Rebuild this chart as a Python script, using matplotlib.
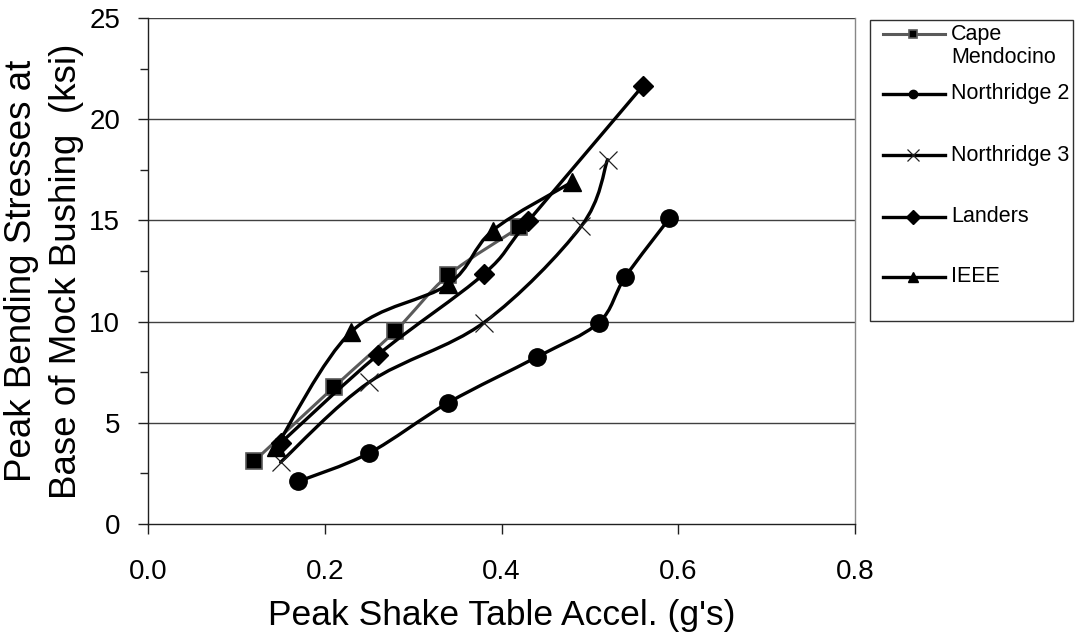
import numpy as np
import matplotlib
matplotlib.use("Agg")
import matplotlib.pyplot as plt
from matplotlib.path import Path
from matplotlib.patches import PathPatch, Rectangle
from matplotlib.lines import Line2D
from matplotlib.ticker import MultipleLocator

plt.rcParams['font.family'] = ['Liberation Sans', 'DejaVu Sans']

# Peak shake table acceleration (g) and peak bending stress (ksi) per record
series_names = ["Cape\nMendocino", "Northridge 2", "Northridge 3", "Landers", "IEEE"]

cape_x = [0.12, 0.21, 0.28, 0.34, 0.42]
cape_y = [3.1, 6.75, 9.55, 12.3, 14.65]

north2_x = [0.17, 0.25, 0.34, 0.44, 0.51, 0.54, 0.59]
north2_y = [2.1, 3.5, 6.0, 8.25, 9.95, 12.2, 15.1]

north3_x = [0.15, 0.25, 0.38, 0.49, 0.52]
north3_y = [3.05, 7.0, 9.95, 14.7, 18.0]

landers_x = [0.15, 0.26, 0.38, 0.43, 0.56]
landers_y = [4.0, 8.35, 12.35, 14.95, 21.65]

ieee_x = [0.145, 0.23, 0.34, 0.39, 0.48]
ieee_y = [3.8, 9.5, 11.85, 14.5, 16.9]

x_ticks = [0.0, 0.2, 0.4, 0.6, 0.8]
y_ticks = [0, 5, 10, 15, 20, 25]


def smooth_path(xs, ys):
    """Cubic Bezier through the points (Catmull-Rom style control points)."""
    p = np.column_stack([xs, ys]).astype(float)
    n = len(p)
    verts = [p[0]]
    codes = [Path.MOVETO]
    for i in range(n - 1):
        p0 = p[i - 1] if i > 0 else p[i]
        p1 = p[i]
        p2 = p[i + 1]
        p3 = p[i + 2] if i + 2 < n else p[i + 1]
        c1 = p1 + (p2 - p0) / 6.0
        c2 = p2 - (p3 - p1) / 6.0
        verts += [c1, c2, p2]
        codes += [Path.CURVE4] * 3
    return Path(verts, codes)


W, H = 1075, 634
fig = plt.figure(figsize=(W / 100, H / 100), dpi=100)
ax = fig.add_axes([148 / W, 1 - 524 / H, (855 - 148) / W, (524 - 18) / H])
ax.set_xlim(0, 0.8)
ax.set_ylim(0, 25)

grid_col = "#404040"
for v in y_ticks[1:]:
    ax.axhline(v, color=grid_col, lw=1.0, zorder=1)

ax.spines["top"].set_visible(False)
ax.spines["right"].set_color("#888888")
ax.spines["right"].set_linewidth(1.0)
ax.spines["left"].set_linewidth(1.0)
ax.spines["bottom"].set_linewidth(1.0)
ax.spines["left"].set_color("#202020")
ax.spines["bottom"].set_color("#202020")

ax.set_xticks(x_ticks)
ax.set_xticklabels([f"{v:.1f}" for v in x_ticks])
ax.set_yticks(y_ticks)
ax.set_yticklabels([str(v) for v in y_ticks])
ax.yaxis.set_minor_locator(MultipleLocator(2.5))
ax.tick_params(axis="both", which="major", direction="out", length=7, width=1,
               color="#202020", labelsize=20)
ax.tick_params(axis="x", pad=18)
ax.tick_params(axis="y", pad=13)
ax.tick_params(axis="y", which="minor", direction="out", length=6, width=1,
               color="#202020")

ax.set_xlabel("Peak Shake Table Accel. (g's)", fontsize=25.5, labelpad=10)
fig.text(44 / W, 1 - 271 / H, "Peak Bending Stresses at\nBase of Mock Bushing  (ksi)",
         rotation=90, ha="center", va="center", fontsize=26.5, linespacing=1.35,
         multialignment="center")

styles = [
    dict(color="#5a5a5a", lw=2.2, marker="s", ms=11, mfc="black", mec="#5a5a5a", mew=1.2),
    dict(color="black", lw=2.4, marker="o", ms=12.5, mfc="black", mec="black", mew=1),
    dict(color="black", lw=2.4, marker="x", ms=13, mfc="black", mec="#202020", mew=0.9),
    dict(color="black", lw=2.4, marker="D", ms=10, mfc="black", mec="black", mew=1),
    dict(color="black", lw=2.4, marker="^", ms=12.5, mfc="black", mec="black", mew=1),
]
data = [(cape_x, cape_y), (north2_x, north2_y), (north3_x, north3_y),
        (landers_x, landers_y), (ieee_x, ieee_y)]

for k, ((xs, ys), st) in enumerate(zip(data, styles)):
    z = 3 + 2 * k
    ax.add_patch(PathPatch(smooth_path(xs, ys), fill=False, edgecolor=st["color"],
                           lw=st["lw"], capstyle="round", joinstyle="round", zorder=z))
    ax.plot(xs, ys, linestyle="none", marker=st["marker"], ms=st["ms"],
            mfc=st["mfc"], mec=st["mec"], mew=st["mew"], zorder=z + 1, clip_on=False)

# Legend panel drawn in pixel units
lax = fig.add_axes([869 / W, 1 - 322 / H, (1073 - 869) / W, (322 - 19) / H])
lax.set_xlim(0, 204)
lax.set_ylim(303, 0)
lax.axis("off")
lax.add_patch(Rectangle((0.5, 0.5), 203, 302, fill=False, edgecolor="#303030", lw=1.0,
                        clip_on=False))
legend_rows = [15, 75, 136, 198, 258]
legend_ms = [5.5, 6, 8, 7, 7.5]
for k, (name, st) in enumerate(zip(series_names, styles)):
    yy = legend_rows[k]
    lax.add_line(Line2D([14, 76], [yy, yy], color=st["color"], lw=st["lw"]))
    lax.add_line(Line2D([44], [yy], linestyle="none", marker=st["marker"],
                        ms=legend_ms[k], mfc=st["mfc"], mec=st["mec"],
                        mew=st["mew"]))
    if "\n" in name:
        lax.text(82, 5, name, fontsize=15.5, ha="left", va="top", linespacing=1.15)
    else:
        lax.text(82, yy, name, fontsize=15.5, ha="left", va="center")

fig.savefig("out.png", dpi=100)
